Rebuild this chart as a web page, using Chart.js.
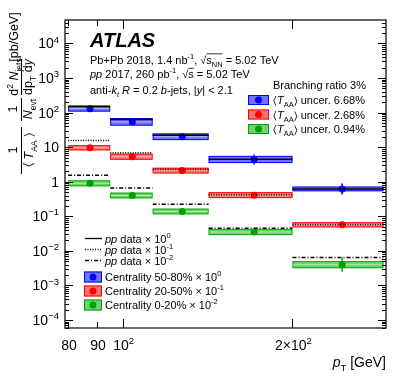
<!DOCTYPE html>
<html>
<head>
<meta charset="utf-8">
<script src="https://cdn.jsdelivr.net/npm/chart.js"></script>
<style>
  html, body { margin: 0; padding: 0; background: #fff; }
  canvas { display: block; }
</style>
</head>
<body>
<canvas id="c" width="407" height="391"></canvas>
<script>
// pT bins [GeV]
const binEdges = [80, 95, 113, 142, 200, 290];
const binCenters = [87.5, 104, 127.5, 171, 245];

// Pb+Pb yields (already scaled)
const cent5080 = [130, 54, 20, 4.4, 0.62];
const cent2050 = [9.6, 5.3, 2.1, 0.41, 0.057];
const cent020 = [0.9, 0.4, 0.138, 0.035, 0.004];

// relative stat. uncertainties
const stat5080 = [0.06, 0.06, 0.07, 0.39, 0.44];
const stat2050 = [0.05, 0.05, 0.06, 0.08, 0.22];
const stat020 = [0.07, 0.07, 0.09, 0.15, 0.59];

// relative syst. uncertainties (box half height)
const sys5080 = [0.22, 0.29, 0.25, 0.27, 0.17];
const sys2050 = [0.19, 0.23, 0.21, 0.22, 0.19];
const sys020 = [0.22, 0.21, 0.21, 0.22, 0.27];

// pp reference (scaled)
const ppX1 = [150, 63, 22, 4.5, 0.62];
const ppX01 = [15.7, 6.9, 2.25, 0.42, 0.058];
const ppX001 = [1.54, 0.66, 0.225, 0.045, 0.0065];

const FONT = '"Liberation Sans", Arial, Helvetica, sans-serif';

const series = [
  { vals: cent5080, stat: stat5080, sys: sys5080, color: '#0000ff', rgb: '0,0,255' },
  { vals: cent2050, stat: stat2050, sys: sys2050, color: '#ff0000', rgb: '255,0,0' },
  { vals: cent020, stat: stat020, sys: sys020, color: '#00a000', rgb: '0,170,0' }
];

function stepData(vals) {
  const out = [];
  vals.forEach((v, i) => {
    out.push({ x: binEdges[i], y: v });
    out.push({ x: binEdges[i + 1], y: v });
    out.push({ x: binEdges[i + 1], y: null });
  });
  return out;
}

function pointData(vals) {
  return vals.map((v, i) => ({ x: binCenters[i], y: v }));
}

// text with italics / sub / superscripts
function rich(ctx, x, y, parts, size, align) {
  const segs = parts.map(([t, k]) => {
    k = k || '';
    const small = k.includes('^') || k.includes('_');
    const s = small ? size * 0.68 : size;
    const f = (k.includes('i') ? 'italic ' : '') + (k.includes('b') ? 'bold ' : '') + s + 'px ' + FONT;
    ctx.font = f;
    return { t, k, f, w: ctx.measureText(t).width };
  });
  const total = segs.reduce((a, s) => a + s.w, 0);
  let cx = align === 'right' ? x - total : align === 'center' ? x - total / 2 : x;
  segs.forEach(s => {
    let dy = 0;
    if (s.k.includes('^')) dy = -size * 0.42;
    if (s.k.includes('_')) dy = size * 0.3;
    ctx.font = s.f;
    ctx.fillText(s.t, cx, y + dy);
    if (s.k.includes('o')) {
      ctx.beginPath();
      ctx.lineWidth = 0.8;
      ctx.moveTo(cx, y - size * 0.88);
      ctx.lineTo(cx + s.w, y - size * 0.88);
      ctx.stroke();
    }
    cx += s.w;
  });
  return total;
}

const boxPlugin = {
  id: 'boxes',
  beforeDatasetsDraw(chart) {
    const ctx = chart.ctx, xs = chart.scales.x, ys = chart.scales.y, a = chart.chartArea;
    ctx.save();
    ctx.beginPath();
    ctx.rect(a.left, a.top, a.right - a.left, a.bottom - a.top);
    ctx.clip();
    series.forEach(s => {
      s.vals.forEach((v, i) => {
        const x1 = xs.getPixelForValue(binEdges[i]);
        const x2 = xs.getPixelForValue(binEdges[i + 1]);
        const y1 = ys.getPixelForValue(v * (1 + s.sys[i]));
        const y2 = ys.getPixelForValue(v / (1 + s.sys[i]));
        const yc = ys.getPixelForValue(v);
        ctx.fillStyle = 'rgba(' + s.rgb + ',0.55)';
        ctx.fillRect(x1, y1, x2 - x1, y2 - y1);
        ctx.strokeStyle = 'rgba(' + s.rgb + ',0.9)';
        ctx.lineWidth = 1;
        ctx.strokeRect(x1 + 0.5, y1 + 0.5, x2 - x1 - 1, y2 - y1 - 1);
        ctx.strokeStyle = 'rgba(255,255,255,0.45)';
        ctx.beginPath();
        ctx.moveTo(x1 + 1, yc);
        ctx.lineTo(x2 - 1, yc);
        ctx.stroke();
      });
    });
    ctx.restore();
  },
  afterDatasetsDraw(chart) {
    const ctx = chart.ctx, xs = chart.scales.x, ys = chart.scales.y;
    ctx.save();
    series.forEach(s => {
      s.vals.forEach((v, i) => {
        const x = xs.getPixelForValue(binCenters[i]);
        ctx.strokeStyle = s.color;
        ctx.lineWidth = 1.5;
        ctx.beginPath();
        ctx.moveTo(x, ys.getPixelForValue(v * (1 + s.stat[i])));
        ctx.lineTo(x, ys.getPixelForValue(v / (1 + s.stat[i])));
        ctx.stroke();
      });
    });
    ctx.restore();
  }
};

const axisPlugin = {
  id: 'axes',
  afterDraw(chart) {
    const ctx = chart.ctx, xs = chart.scales.x, ys = chart.scales.y, a = chart.chartArea;
    ctx.save();
    ctx.fillStyle = '#000';
    ctx.strokeStyle = '#000';

    // frame
    ctx.lineWidth = 1.2;
    ctx.strokeRect(a.left, a.top, a.right - a.left, a.bottom - a.top);

    // y ticks
    ctx.lineWidth = 1;
    for (let e = -5; e <= 4; e++) {
      for (let m = 1; m <= 9; m++) {
        const v = m * Math.pow(10, e);
        if (v < ys.min || v > ys.max) continue;
        const y = Math.round(ys.getPixelForValue(v)) + 0.5;
        const len = m === 1 ? 8 : 4;
        ctx.beginPath();
        ctx.moveTo(a.left, y); ctx.lineTo(a.left + len, y);
        ctx.moveTo(a.right, y); ctx.lineTo(a.right - len, y);
        ctx.stroke();
      }
    }
    // x ticks
    [80, 90, 100, 200].forEach(v => {
      const x = Math.round(xs.getPixelForValue(v)) + 0.5;
      const len = v >= 100 ? 9 : 6;
      ctx.beginPath();
      ctx.moveTo(x, a.bottom); ctx.lineTo(x, a.bottom - len);
      ctx.moveTo(x, a.top); ctx.lineTo(x, a.top + len);
      ctx.stroke();
    });

    // y tick labels
    ctx.textBaseline = 'alphabetic';
    for (let e = -4; e <= 4; e++) {
      const y = ys.getPixelForValue(Math.pow(10, e)) + 5;
      let parts;
      if (e === 0) parts = [['1', '']];
      else if (e === 1) parts = [['10', '']];
      else parts = [['10', ''], [e < 0 ? '\u2212' + (-e) : String(e), '^']];
      rich(ctx, 59, y, parts, 14, 'right');
    }
    // x tick labels
    const xl = [
      [80, [['80', '']]],
      [90, [['90', '']]],
      [100, [['10', ''], ['2', '^']]],
      [200, [['2\u00d710', ''], ['2', '^']]]
    ];
    xl.forEach(([v, parts]) => {
      rich(ctx, xs.getPixelForValue(v) + 1, 350, parts, 14, 'center');
    });

    // x title
    rich(ctx, 386, 367, [['p', 'i'], ['T', '_'], [' [GeV]', '']], 14, 'right');

    // y title (rotated)
    const rot = (sx, sy, fn) => {
      ctx.save(); ctx.translate(sx, sy); ctx.rotate(-Math.PI / 2); fn(); ctx.restore();
    };
    const fs = 12.5;
    rot(17, 150, () => rich(ctx, 0, 0, [['1', '']], fs, 'center'));
    rot(33, 150, () => rich(ctx, 0, 0, [['\u2329 ', ''], ['T', 'i'], ['AA', '_'], [' \u232a', '']], fs, 'center'));
    rot(17, 109, () => rich(ctx, 0, 0, [['1', '']], fs, 'center'));
    rot(32, 109, () => rich(ctx, 0, 0, [['N', 'i'], ['evt', '_']], fs, 'center'));
    rot(18, 77, () => rich(ctx, 0, 0, [['d', ''], ['2', '^'], [' N', 'i'], ['jets', '_']], fs, 'center'));
    rot(32, 77, () => rich(ctx, 0, 0, [['dp', ''], ['T', '_'], [' d', ''], ['y', 'i']], fs, 'center'));
    rot(17.5, 37, () => rich(ctx, 0, 0, [['[pb/GeV]', '']], fs, 'center'));
    ctx.lineWidth = 1;
    [[127, 174], [98, 121], [59, 95]].forEach(([y1, y2]) => {
      ctx.beginPath(); ctx.moveTo(21.5, y1); ctx.lineTo(21.5, y2); ctx.stroke();
    });

    // ATLAS label block
    rich(ctx, 90, 47, [['ATLAS', 'ib']], 20, 'left');
    const ts = 11;
    rich(ctx, 90, 63.5, [['Pb+Pb 2018, 1.4 nb', ''], ['-1', '^'], [', \u221a', ''], ['s', 'o'], ['NN', '_o'], [' = 5.02 TeV', '']], ts, 'left');
    rich(ctx, 90, 78, [['pp', 'i'], [' 2017, 260 pb', ''], ['-1', '^'], [', \u221a', ''], ['s', 'o'], [' = 5.02 TeV', '']], ts, 'left');
    rich(ctx, 90, 94, [['anti-', ''], ['k', 'i'], ['t', '_i'], [' R', 'i'], [' = 0.2 ', ''], ['b', 'i'], ['-jets, |', ''], ['y', 'i'], ['| < 2.1', '']], ts, 'left');

    // upper legend
    rich(ctx, 273, 89, [['Branching ratio 3%', '']], ts, 'left');
    const tUnc = ['6.68%', '2.68%', '0.94%'];
    const rowsA = [100, 114.5, 129];
    series.forEach((s, i) => {
      const y = rowsA[i];
      drawLegendBox(ctx, 248, y, 21, 10, s);
      ctx.fillStyle = '#000';
      rich(ctx, 273, y + 4, [['\u2329', ''], ['T', 'i'], ['AA', '_'], ['\u232a uncer. ' + tUnc[i], '']], ts, 'left');
    });

    // lower legend: pp lines
    const dashes = [[], [1, 1.5], [4, 2, 1, 2]];
    const exps = ['0', '-1', '-2'];
    const rowsB = [238.5, 249.5, 260.5];
    rowsB.forEach((y, i) => {
      ctx.strokeStyle = '#000';
      ctx.lineWidth = 1.3;
      ctx.setLineDash(dashes[i]);
      ctx.beginPath(); ctx.moveTo(85, y); ctx.lineTo(102, y); ctx.stroke();
      ctx.setLineDash([]);
      ctx.fillStyle = '#000';
      rich(ctx, 105, y + 4, [['pp', 'i'], [' data \u00d7 10', ''], [exps[i], '^']], ts, 'left');
    });
    const centLab = ['Centrality 50-80% \u00d7 10', 'Centrality 20-50% \u00d7 10', 'Centrality 0-20% \u00d7 10'];
    const rowsC = [277, 291, 305];
    series.forEach((s, i) => {
      const y = rowsC[i];
      drawLegendBox(ctx, 84, y, 18, 11, s);
      ctx.fillStyle = '#000';
      rich(ctx, 105, y + 4, [[centLab[i], ''], [exps[i], '^']], ts, 'left');
    });
    ctx.restore();
  }
};

function drawLegendBox(ctx, x, yc, w, h, s) {
  ctx.fillStyle = 'rgba(' + s.rgb + ',0.55)';
  ctx.fillRect(x, yc - h / 2, w, h);
  ctx.strokeStyle = s.color;
  ctx.lineWidth = 1;
  ctx.strokeRect(x + 0.5, yc - h / 2 + 0.5, w - 1, h - 1);
  ctx.fillStyle = s.color;
  ctx.beginPath();
  ctx.arc(x + w / 2, yc, 3.5, 0, Math.PI * 2);
  ctx.fill();
}

const ppDatasets = [
  { data: stepData(ppX1), dash: [] },
  { data: stepData(ppX01), dash: [1, 1.5] },
  { data: stepData(ppX001), dash: [4, 2, 1, 2] }
].map(d => ({
  type: 'line',
  data: d.data,
  borderColor: '#000',
  borderWidth: 1.5,
  borderDash: d.dash,
  pointRadius: 0,
  spanGaps: false,
  tension: 0
}));

const markerDatasets = series.map(s => ({
  type: 'line',
  data: pointData(s.vals),
  showLine: false,
  pointRadius: 3.5,
  pointBackgroundColor: s.color,
  pointBorderColor: s.color,
  pointBorderWidth: 0
}));

new Chart(document.getElementById('c').getContext('2d'), {
  type: 'line',
  data: { datasets: [...ppDatasets, ...markerDatasets] },
  options: {
    responsive: false,
    animation: false,
    layout: { padding: { left: 65, right: 21, top: 20, bottom: 63 } },
    scales: {
      x: { type: 'logarithmic', min: 79, max: 293, display: false },
      y: { type: 'logarithmic', min: 5.9e-5, max: 4.75e4, display: false }
    },
    plugins: { legend: { display: false }, tooltip: { enabled: false } }
  },
  plugins: [boxPlugin, axisPlugin]
});
</script>
</body>
</html>
